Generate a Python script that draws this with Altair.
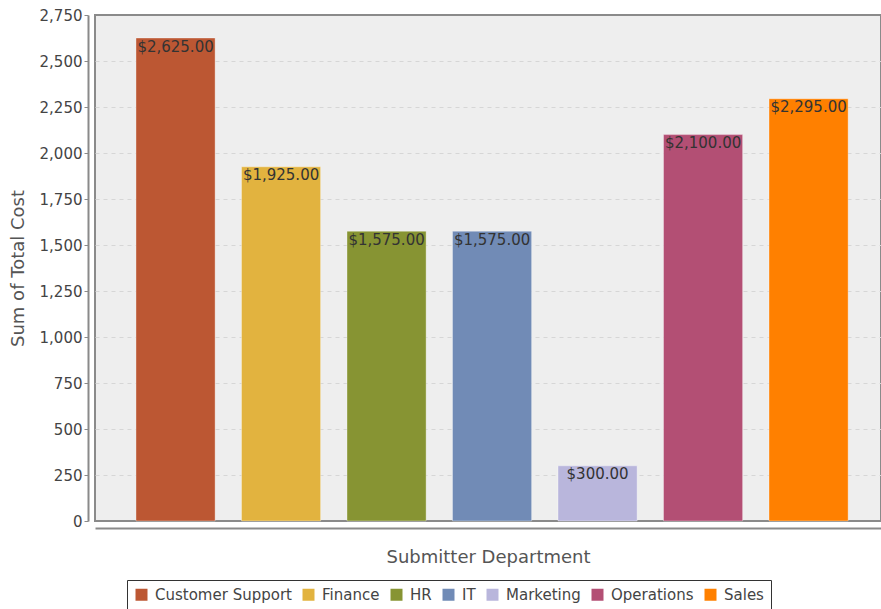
import altair as alt
import pandas as pd

# Total cost per submitting department
departments = ["Customer Support", "Finance", "HR", "IT", "Marketing", "Operations", "Sales"]
totals = [2625, 1925, 1575, 1575, 300, 2100, 2295]
colors = ["#BC5733", "#E2B33F", "#879433", "#718BB6", "#B9B6DC", "#B34F74", "#FF8000"]
y_ticks = list(range(0, 2751, 250))

df = pd.DataFrame({"dept": departments, "total": totals})
df["label"] = df["total"].map(lambda v: f"${v:,.2f}")

FONT = "DejaVu Sans"

x_enc = alt.X(
    "dept:N",
    sort=departments,
    scale=alt.Scale(paddingInner=0.25, paddingOuter=0.35, align=0.555),
    axis=alt.Axis(
        title="Submitter Department",
        labels=False,
        ticks=False,
        domainColor="#8a8a8a",
        domainWidth=2,
        offset=7,
        titleFont=FONT,
        titleFontSize=18,
        titleFontWeight="normal",
        titleColor="#555555",
        titlePadding=20,
    ),
)

y_enc = alt.Y(
    "total:Q",
    scale=alt.Scale(domain=[0, 2750], nice=False),
    axis=alt.Axis(
        title="Sum of Total Cost",
        values=y_ticks,
        format=",d",
        offset=7,
        domainColor="#8a8a8a",
        domainWidth=2,
        tickColor="#8a8a8a",
        tickSize=4,
        labelPadding=2,
        labelFont=FONT,
        labelFontSize=15,
        labelColor="#444444",
        titleFont=FONT,
        titleFontSize=18,
        titleFontWeight="normal",
        titleColor="#555555",
        titlePadding=12,
        gridColor="#d6d6d6",
        gridDash=[4, 4],
        gridWidth=1,
        # the plot border already draws the lines at 0 and 2,750
        gridOpacity=alt.condition(
            "datum.value == 0 || datum.value == 2750", alt.value(0), alt.value(1)
        ),
    ),
)

bars = alt.Chart(df).mark_bar(
    stroke="white", strokeOpacity=0.35, strokeWidth=1
).encode(
    x=x_enc,
    y=y_enc,
    color=alt.Color(
        "dept:N",
        sort=departments,
        scale=alt.Scale(domain=departments, range=colors),
        legend=alt.Legend(
            title=None,
            orient="none",
            legendX=32,
            legendY=565,
            direction="horizontal",
            symbolType="square",
            symbolSize=144,
            symbolStrokeWidth=0,
            symbolOpacity=1,
            labelFont=FONT,
            labelFontSize=15,
            labelColor="#444444",
            labelOffset=6,
            columnPadding=9,
            padding=7,
            strokeColor="#333333",
            fillColor="white",
        ),
    ),
)

labels = alt.Chart(df).mark_text(
    baseline="top", align="center", dy=1.5, font=FONT, fontSize=15, color="#333333"
).encode(
    x=alt.X("dept:N", sort=departments),
    y=alt.Y("total:Q"),
    text="label:N",
)

chart = (
    alt.layer(bars, labels)
    .properties(
        width=786,
        height=506,
        autosize=alt.AutoSizeParams(type="none"),
        padding={"left": 95, "top": 15, "right": 0, "bottom": 88},
        background="white",
    )
    .configure_view(fill="#EEEEEE", stroke="#8a8a8a", strokeWidth=2)
)

chart.save("out.html", embed_options={"renderer": "svg", "actions": False})
